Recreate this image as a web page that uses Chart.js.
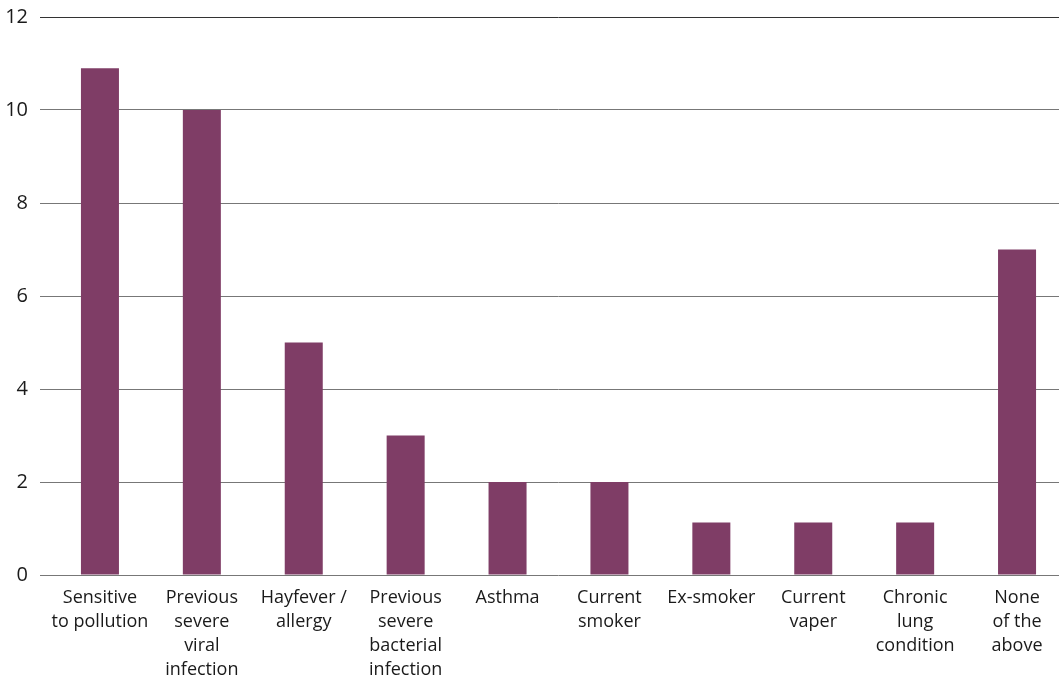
<!DOCTYPE html>
<html>
<head>
<meta charset="utf-8">
<script src="https://cdn.jsdelivr.net/npm/chart.js@4"></script>
<style>
    html, body { margin: 0; padding: 0; background: #fff; overflow: hidden; }
    .chart-wrap { position: relative; width: 1068px; height: 680px; }
</style>
</head>
<body>
<div class="chart-wrap"><canvas id="riskChart"></canvas></div>
<script>
const categories = [
    ['Sensitive', 'to pollution'],
    ['Previous', 'severe', 'viral', 'infection'],
    ['Hayfever /', 'allergy'],
    ['Previous', 'severe', 'bacterial', 'infection'],
    'Asthma',
    ['Current', 'smoker'],
    'Ex-smoker',
    ['Current', 'vaper'],
    ['Chronic', 'lung', 'condition'],
    ['None', 'of the', 'above']
];
const counts = [10.9, 10, 5, 3, 2, 2, 1.13, 1.13, 1.13, 7];
const yTicks = [0, 2, 4, 6, 8, 10, 12];

const fontFamily = '"Open Sans", "Noto Sans", sans-serif';

const createChartBar = (canvasChartId, chartLabels, chartData) => {
    const config = {
        type: 'bar',
        data: {
            labels: chartLabels,
            datasets: [{
                data: chartData,
                backgroundColor: '#7f3d66',
                borderWidth: 0,
                categoryPercentage: 1,
                barPercentage: 0.373,
            }]
        },
        options: {
            responsive: true,
            maintainAspectRatio: false,
            animation: false,
            layout: { padding: { top: 17, right: 0, bottom: 0, left: 0 } },
            plugins: {
                legend: { display: false },
                tooltip: { enabled: false },
            },
            scales: {
                x: {
                    grid: { display: false },
                    border: { display: false },
                    ticks: {
                        autoSkip: false,
                        maxRotation: 0,
                        padding: 3,
                        color: '#1a1a1a',
                        font: { family: fontFamily, size: 18, lineHeight: 1.33 },
                    },
                    afterFit: (scale) => { scale.height = 105; },
                },
                y: {
                    min: 0,
                    max: 12,
                    afterBuildTicks: (scale) => { scale.ticks = yTicks.map(v => ({ value: v })); },
                    grid: {
                        color: (ctx) => ctx.tick && ctx.tick.value === 12 ? '#333333' : '#777777',
                        lineWidth: 1,
                        drawTicks: true,
                        tickLength: 9,
                    },
                    border: { display: false },
                    ticks: {
                        padding: 12,
                        color: '#1a1a1a',
                        font: { family: fontFamily, size: 20 },
                    },
                    afterFit: (scale) => {
                        scale.width = 49;
                        scale.paddingTop = 0;
                        scale.paddingBottom = 0;
                    },
                }
            }
        }
    };

    new Chart(document.getElementById(canvasChartId), config);
}

createChartBar('riskChart', categories, counts);
</script>
</body>
</html>
